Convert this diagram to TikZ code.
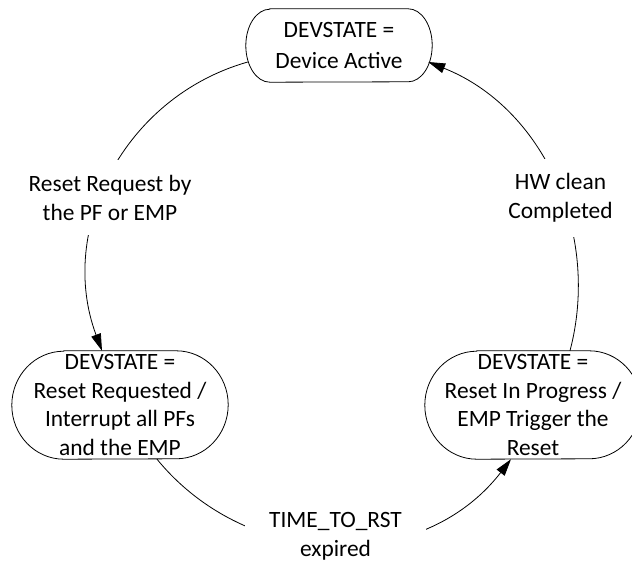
\documentclass[tikz,border=0pt]{standalone}
\usepackage{fontspec}
\setmainfont{Carlito}
\usetikzlibrary{arrows.meta}
\begin{document}
\begin{tikzpicture}[x=1pt,y=1pt,
  every node/.style={font=\fontsize{23.4pt}{28.5pt}\selectfont, align=center, inner sep=0pt},
  statebox/.style={minimum width=216pt, minimum height=108pt},
  topbox/.style={minimum width=186pt, minimum height=73pt, font=\fontsize{23.4pt}{31pt}\selectfont},
  border/.style={line width=0.8pt},
  conn/.style={line width=0.8pt, -{Triangle[length=17pt,width=10pt]}},
  elabel/.style={fill=white, inner xsep=24pt, inner ysep=15pt}]
\useasboundingbox (0,0) rectangle (632,560);
% states
\node[topbox] (top) at (339,514.5) {DEVSTATE =\\Device Active};
\node[statebox] (left) at (120,155) {DEVSTATE =\\Reset Requested /\\Interrupt all PFs\\and the EMP};
\node[statebox] (right) at (533,155) {DEVSTATE =\\Reset In Progress /\\EMP Trigger the\\Reset};
% borders
\draw[border] ([xshift=24pt]top.north west) -- ([xshift=-24pt]top.north east)
  arc[start angle=90,end angle=-90,x radius=24pt,y radius=36.5pt]
  -- ([xshift=24pt]top.south west)
  arc[start angle=270,end angle=90,x radius=24pt,y radius=36.5pt] -- cycle;
\foreach \s in {left,right}{
  \draw[border] ([xshift=52pt]\s.north west) -- ([xshift=-52pt]\s.north east)
    arc[start angle=90,end angle=-90,x radius=52pt,y radius=54pt]
    -- ([xshift=52pt]\s.south west)
    arc[start angle=270,end angle=90,x radius=52pt,y radius=54pt] -- cycle;
}
% transitions
\draw[conn] ([xshift=2pt,yshift=-16.5pt]top.west) to[out=195.8,in=110.5,looseness=1.02] ([xshift=-18pt]left.north);
\draw[conn] ([xshift=37pt]left.south) to[out=309.3,in=232.3,looseness=1.05] ([xshift=-22pt]right.south);
\draw[conn] ([xshift=37pt]right.north) to[out=75.3,in=338.4,looseness=0.975] ([xshift=-4pt,yshift=-16.5pt]top.east);
% transition labels
\node[elabel] (l1) at (110,362.2) {Reset Request by\\the PF or EMP};
\node[elabel] (l3) at (560.5,362.2) {HW clean\\Completed};
\node[elabel] (l2) at (335.5,23.5) {TIME\_TO\_RST\\expired};
\end{tikzpicture}
\end{document}
